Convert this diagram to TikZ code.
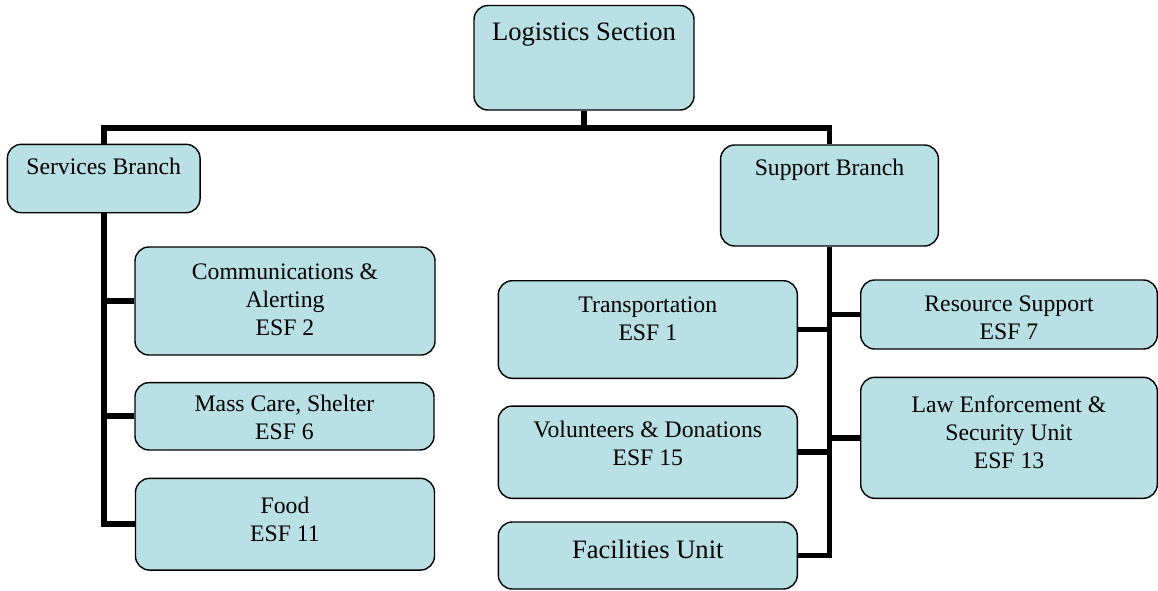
\documentclass[tikz,border=0pt]{standalone}
\usepackage{fontspec}
\setmainfont{Liberation Serif}
\definecolor{boxfill}{RGB}{185,224,228}
\pgfdeclarelayer{background}
\pgfsetlayers{background,main}
\begin{document}
\begin{tikzpicture}[x=1pt,y=-1pt,
  box/.style={draw=black, line width=1.4pt, fill=boxfill, rounded corners=14pt, inner sep=0pt},
  txt/.style={font=\fontsize{23.7}{28}\selectfont, align=center, inner sep=0pt, anchor=base},
  bigtxt/.style={txt, font=\fontsize{26.6}{31}\selectfont},
  conn/.style={draw=black, line width=5.8pt, line join=miter}]
\useasboundingbox (0,0) rectangle (1158,590);

% boxes
\node[box, minimum width=220pt, minimum height=104.5pt] (ls) at (584,57.75) {};
\node[box, minimum width=192.7pt, minimum height=68.4pt] (svb) at (103.7,178.5) {};
\node[box, minimum width=217.8pt, minimum height=101pt] (spb) at (829.5,195.5) {};
\node[box, minimum width=300pt, minimum height=108pt] (comms) at (285,301) {};
\node[box, minimum width=299pt, minimum height=67.3pt] (mass) at (284.5,416.3) {};
\node[box, minimum width=299pt, minimum height=91.7pt] (food) at (285,524.2) {};
\node[box, minimum width=299pt, minimum height=97.6pt] (tr) at (647.8,329.5) {};
\node[box, minimum width=299pt, minimum height=92.3pt] (vol) at (647.8,452.2) {};
\node[box, minimum width=299pt, minimum height=67pt] (fac) at (647.8,555.5) {};
\node[box, minimum width=296.6pt, minimum height=69pt] (res) at (1009,314.5) {};
\node[box, minimum width=296.6pt, minimum height=121pt] (law) at (1009,437.8) {};

% texts (anchor base = baseline of the last line)
\node[bigtxt] (lsT) at (584,40.7) {Logistics Section};
\node[txt] (svbT) at (103.7,174.3) {Services Branch};
\node[txt] (spbT) at (829.5,175) {Support Branch};
\node[txt] (commsT) at (285,335.5) {Communications \&\\Alerting\\ESF 2};
\node[txt] (massT) at (284.5,439.5) {Mass Care, Shelter\\ESF 6};
\node[txt] (foodT) at (285,541.7) {Food\\ESF 11};
\node[txt] (trT) at (647.8,340.7) {Transportation\\ESF 1};
\node[txt] (volT) at (647.8,465) {Volunteers \& Donations\\ESF 15};
\node[bigtxt] (facT) at (647.8,558.3) {Facilities Unit};
\node[txt] (resT) at (1009,339) {Resource Support\\ESF 7};
\node[txt] (lawT) at (1009,468.3) {Law Enforcement \&\\Security Unit\\ESF 13};

\coordinate (barL) at (104,128);

\begin{pgfonlayer}{background}
\draw[conn] (ls.south) -- (ls.south |- barL);
\draw[conn] (spb.north) -- (spb.north |- barL) -- (barL) -- (barL |- food.west) -- (food.west);
\draw[conn] (comms.west) -- (comms.west -| barL);
\draw[conn] (mass.west) -- (mass.west -| barL);
\draw[conn] (spb.south) -- (spb.south |- fac.east) -- (fac.east);
\draw[conn] (tr.east) -- (tr.east -| spb.south);
\draw[conn] (vol.east) -- (vol.east -| spb.south);
\draw[conn] (res.west) -- (res.west -| spb.south);
\draw[conn] (law.west) -- (law.west -| spb.south);
\end{pgfonlayer}
\end{tikzpicture}
\end{document}
